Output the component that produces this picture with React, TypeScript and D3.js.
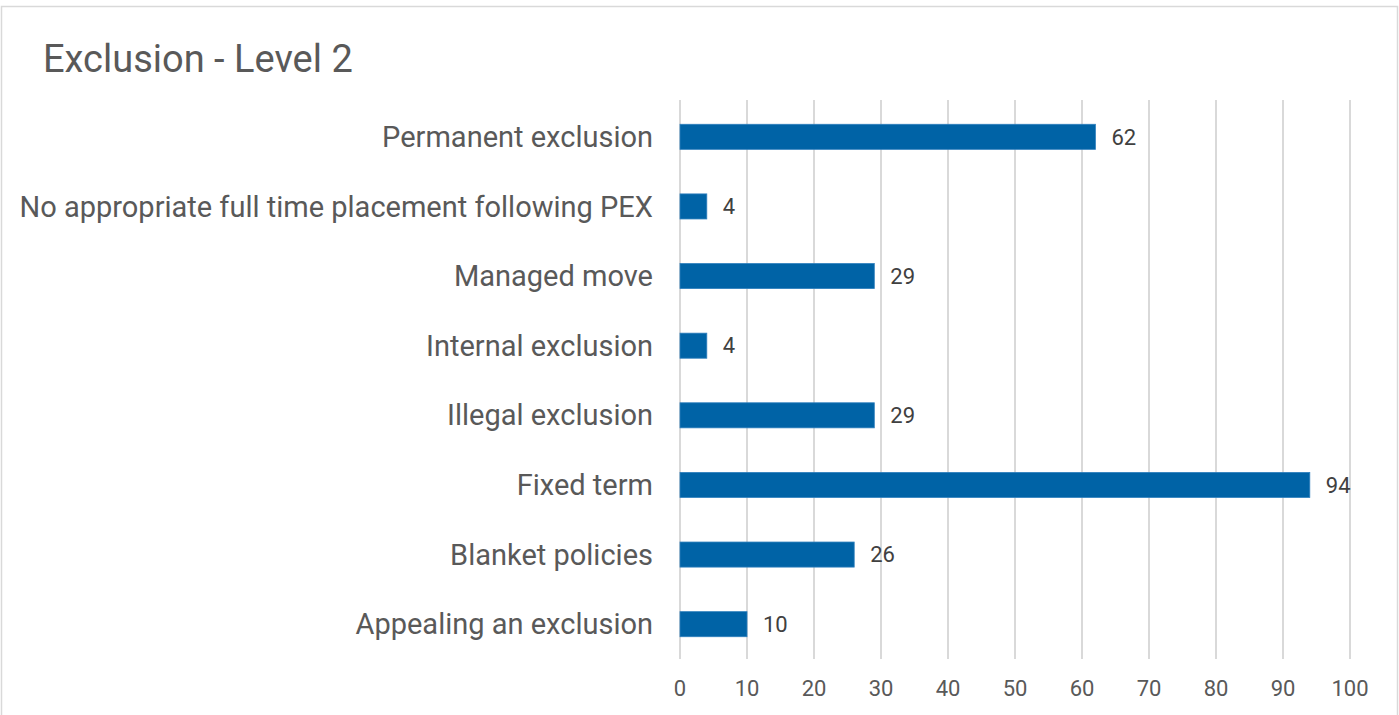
import React from "react";
import * as d3 from "d3";

const categories = [
  "Permanent exclusion",
  "No appropriate full time placement following PEX",
  "Managed move",
  "Internal exclusion",
  "Illegal exclusion",
  "Fixed term",
  "Blanket policies",
  "Appealing an exclusion",
];
const values = [62, 4, 29, 4, 29, 94, 26, 10];
const xTicks = [0, 10, 20, 30, 40, 50, 60, 70, 80, 90, 100];
const title = "Exclusion - Level 2";

const W = 1399;
const H = 715;
const FONT = "Roboto, 'Liberation Sans', Arial, sans-serif";

export default function App() {
  const x = d3.scaleLinear().domain([0, 100]).range([680, 1350]);
  const y = d3
    .scaleBand<string>()
    .domain(categories)
    .range([102, 659])
    .paddingInner(0.64)
    .paddingOuter(0.32);
  const bh = y.bandwidth();

  return (
    <svg
      width={W}
      height={H}
      style={{ position: "absolute", left: 0, top: 0, display: "block", background: "#fff" }}
      fontFamily={FONT}
    >
      <rect x={1.5} y={6.5} width={1396} height={730} fill="#fff" stroke="#d9d9d9" strokeWidth={1.5} />
      <text x={43} y={72} fontSize={38} fill="#595959">
        {title}
      </text>
      {xTicks.map((t) => (
        <g key={t}>
          <line x1={x(t)} x2={x(t)} y1={100} y2={659} stroke="#d9d9d9" strokeWidth={2} />
          <text x={x(t)} y={696} textAnchor="middle" fontSize={22} fill="#595959">
            {t}
          </text>
        </g>
      ))}
      {categories.map((c, i) => {
        const yc = (y(c) as number) + bh / 2;
        return (
          <g key={c}>
            <rect
              x={x(0)}
              y={y(c) as number}
              width={x(values[i]) - x(0)}
              height={bh}
              fill="#0063A6"
              stroke="#2e7fbd"
              strokeWidth={0.8}
            />
            <text x={653} y={yc} dy="0.35em" textAnchor="end" fontSize={29} fill="#595959">
              {c}
            </text>
            <text x={x(values[i]) + 16} y={yc} dy="0.35em" fontSize={22} fill="#404040">
              {values[i]}
            </text>
          </g>
        );
      })}
    </svg>
  );
}
